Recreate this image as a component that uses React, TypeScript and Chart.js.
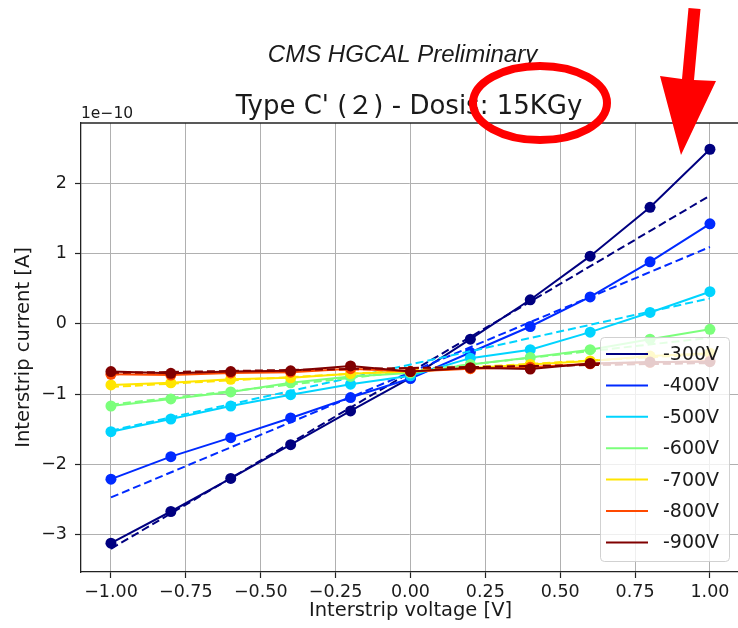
import React, { useEffect, useRef } from "react";
import { Chart, registerables } from "chart.js";

Chart.register(...registerables);

// Bias voltage sweep across the strips
const voltages = [-1, -0.8, -0.6, -0.4, -0.2, 0, 0.2, 0.4, 0.6, 0.8, 1.0];

const biasLabels = ["-300V", "-400V", "-500V", "-600V", "-700V", "-800V", "-900V"];
// jet colormap, one colour per bias step
const seriesColors = ["#000080", "#002aff", "#00d4ff", "#7bff7b", "#ffe500", "#ff4900", "#800000"];

// Interstrip current, units of 1e-10 A
const current300 = [-3.12, -2.67, -2.2, -1.72, -1.24, -0.77, -0.22, 0.34, 0.96, 1.655, 2.48];
const current400 = [-2.21, -1.89, -1.62, -1.34, -1.05, -0.78, -0.41, -0.04, 0.38, 0.88, 1.42];
const current500 = [-1.535, -1.355, -1.17, -1.01, -0.86, -0.74, -0.49, -0.37, -0.12, 0.16, 0.455];
const current600 = [-1.17, -1.07, -0.97, -0.84, -0.75, -0.7, -0.58, -0.48, -0.37, -0.22, -0.08];
const current700 = [-0.87, -0.84, -0.79, -0.77, -0.71, -0.68, -0.63, -0.58, -0.53, -0.46, -0.42];
const current800 = [-0.72, -0.73, -0.7, -0.69, -0.64, -0.68, -0.64, -0.62, -0.57, -0.55, -0.53];
const current900 = [-0.68, -0.705, -0.68, -0.67, -0.6, -0.68, -0.625, -0.645, -0.565, -0.545, -0.54];

const currents = [current300, current400, current500, current600, current700, current800, current900];

// Linear fit of each curve, evaluated at the sweep ends (-1 V and +1 V)
const fitAtMinusOne = [-3.2, -2.47, -1.52, -1.15, -0.9, -0.72, -0.7];
const fitAtPlusOne = [1.82, 1.09, 0.36, -0.2, -0.43, -0.55, -0.56];

const xTicks = [-1, -0.75, -0.5, -0.25, 0, 0.25, 0.5, 0.75, 1];
const yTicks = [-3, -2, -1, 0, 1, 2];

const FONT = "'DejaVu Sans', sans-serif";
const TEXT = "#1a1a1a";

const fmt = (v: number, digits: number) => {
  const s = Math.abs(v).toFixed(digits);
  return v < -1e-9 ? "\u2212" + s : s;
};

function buildDatasets() {
  const sets: any[] = [];
  const n = biasLabels.length * 2;
  let k = 0;
  biasLabels.forEach((label, i) => {
    const color = seriesColors[i];
    sets.push({
      label,
      data: voltages.map((x, j) => ({ x, y: currents[i][j] })),
      showLine: true,
      borderColor: color,
      backgroundColor: color,
      borderWidth: 2,
      pointRadius: 5.5,
      pointBorderWidth: 0,
      pointBackgroundColor: color,
      order: n - k++,
    });
    sets.push({
      label: label + " fit",
      data: [
        { x: voltages[0], y: fitAtMinusOne[i] },
        { x: voltages[voltages.length - 1], y: fitAtPlusOne[i] },
      ],
      showLine: true,
      borderColor: color,
      borderWidth: 2,
      borderDash: [8, 4],
      pointRadius: 0,
      order: n - k++,
    });
  });
  return sets;
}

const decorations = {
  id: "decorations",
  afterDatasetsDraw(chart: any) {
    const ctx = chart.ctx as CanvasRenderingContext2D;
    // legend box
    ctx.save();
    ctx.beginPath();
    (ctx as any).roundRect(600.5, 337.5, 129, 224, 4);
    ctx.fillStyle = "rgba(255,255,255,0.8)";
    ctx.fill();
    ctx.strokeStyle = "rgba(204,204,204,0.9)";
    ctx.lineWidth = 1;
    ctx.stroke();
    biasLabels.forEach((label, i) => {
      const y = 354 + i * 31.4;
      ctx.beginPath();
      ctx.moveTo(606, y);
      ctx.lineTo(648, y);
      ctx.strokeStyle = seriesColors[i];
      ctx.lineWidth = 2;
      ctx.stroke();
      ctx.fillStyle = TEXT;
      ctx.font = `19px ${FONT}`;
      ctx.textAlign = "left";
      ctx.textBaseline = "middle";
      ctx.fillText(label, 663, y + 1);
    });
    ctx.restore();
  },
  afterDraw(chart: any) {
    const ctx = chart.ctx as CanvasRenderingContext2D;
    const area = chart.chartArea;
    ctx.save();
    // top spine
    ctx.beginPath();
    ctx.moveTo(area.left, area.top);
    ctx.lineTo(area.right, area.top);
    ctx.strokeStyle = "#222";
    ctx.lineWidth = 1.3;
    ctx.stroke();

    ctx.fillStyle = TEXT;
    // header
    ctx.textAlign = "center";
    ctx.textBaseline = "alphabetic";
    ctx.font = `italic 24px 'Liberation Sans', Arial, sans-serif`;
    ctx.fillText("CMS HGCAL Preliminary", 402.5, 62);
    ctx.font = `26px ${FONT}, 'Noto Sans CJK JP'`;
    ctx.fillText("Type C' (\uFF12) - Dosis: 15KGy", 409, 114);

    // offset text
    ctx.textAlign = "left";
    ctx.font = `15.5px ${FONT}`;
    ctx.fillText("1e\u221210", 81, 118);

    // axis titles
    ctx.font = `19.5px ${FONT}`;
    ctx.textAlign = "center";
    ctx.textBaseline = "middle";
    ctx.fillText("Interstrip voltage [V]", 410.5, 611);
    ctx.save();
    ctx.translate(24, 347.5);
    ctx.rotate(-Math.PI / 2);
    ctx.fillText("Interstrip current [A]", 0, 0);
    ctx.restore();

    // highlight ring around the dose
    ctx.beginPath();
    ctx.ellipse(540, 103, 67, 37, 0, 0, Math.PI * 2);
    ctx.strokeStyle = "#ff0000";
    ctx.lineWidth = 8;
    ctx.stroke();

    // pointer arrow
    ctx.beginPath();
    ctx.moveTo(688.5, 8);
    ctx.lineTo(700.5, 9);
    ctx.lineTo(694, 80);
    ctx.lineTo(716, 81);
    ctx.lineTo(681, 155);
    ctx.lineTo(660, 76);
    ctx.lineTo(682, 79);
    ctx.closePath();
    ctx.fillStyle = "#ff0000";
    ctx.fill();
    ctx.restore();
  },
};

export default function App() {
  const canvasRef = useRef<HTMLCanvasElement | null>(null);

  useEffect(() => {
    const canvas = canvasRef.current;
    if (!canvas) return;
    const chart = new Chart(canvas, {
      type: "scatter",
      data: { datasets: buildDatasets() },
      options: {
        responsive: false,
        animation: false,
        devicePixelRatio: 1,
        layout: { autoPadding: false, padding: { top: 123, left: 0, right: 0, bottom: 0 } },
        plugins: {
          legend: { display: false },
          tooltip: { enabled: false },
          title: { display: false },
        },
        scales: {
          x: {
            type: "linear",
            min: -1.1,
            max: 1.0937,
            afterBuildTicks: (s: any) => {
              s.ticks = xTicks.map((v) => ({ value: v }));
            },
            afterFit: (s: any) => {
              s.height = 56;
              s.paddingLeft = 0;
              s.paddingRight = 0;
            },
            grid: { color: "#b0b0b0", lineWidth: 1, tickColor: "#222", tickLength: 6, tickWidth: 1.2 },
            border: { color: "#222", width: 1.3 },
            ticks: {
              font: { size: 17.5, family: FONT },
              color: TEXT,
              padding: 4,
              maxRotation: 0,
              autoSkip: false,
              callback: (v: any) => fmt(Number(v), 2),
            },
          },
          y: {
            type: "linear",
            min: -3.53,
            max: 2.853,
            afterBuildTicks: (s: any) => {
              s.ticks = yTicks.map((v) => ({ value: v }));
            },
            afterFit: (s: any) => {
              s.width = 81;
              s.paddingTop = 0;
              s.paddingBottom = 0;
            },
            grid: { color: "#b0b0b0", lineWidth: 1, tickColor: "#222", tickLength: 6, tickWidth: 1.2 },
            border: { color: "#222", width: 1.3 },
            ticks: {
              font: { size: 17.5, family: FONT },
              color: TEXT,
              padding: 8,
              autoSkip: false,
              callback: (v: any) => fmt(Number(v), 0),
            },
          },
        },
      } as any,
      plugins: [decorations],
    });
    return () => chart.destroy();
  }, []);

  return (
    <div style={{ position: "fixed", left: 0, top: 0, width: 738, height: 628, background: "#fff", overflow: "hidden" }}>
      <canvas ref={canvasRef} width={738} height={628} style={{ width: 738, height: 628, display: "block" }} />
    </div>
  );
}
